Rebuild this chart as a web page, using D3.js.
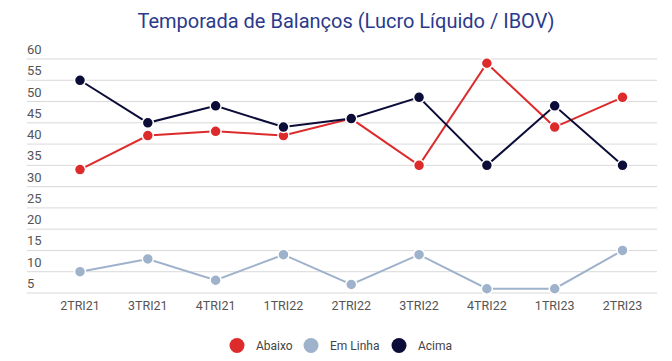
<!DOCTYPE html>
<html>
<head>
<meta charset="utf-8">
<script src="https://cdn.jsdelivr.net/npm/d3@7"></script>
<style>
  body { margin: 0; background: #fff; }
  svg { font-family: Roboto, sans-serif; }
</style>
</head>
<body>
<svg id="chart" width="672" height="361"></svg>
<script>
// data
var categories = ["2TRI21", "3TRI21", "4TRI21", "1TRI22", "2TRI22", "3TRI22", "4TRI22", "1TRI23", "2TRI23"];
var abaixo = [34, 42, 43, 42, 46, 35, 59, 44, 51];
var emLinha = [10, 13, 8, 14, 7, 14, 6, 6, 15];
var acima = [55, 45, 49, 44, 46, 51, 35, 49, 35];
var yTicks = [5, 10, 15, 20, 25, 30, 35, 40, 45, 50, 55, 60];

var series = [
  {name: "Abaixo", values: abaixo, color: "#dd2a2b"},
  {name: "Em Linha", values: emLinha, color: "#9fb2cc"},
  {name: "Acima", values: acima, color: "#0c0c38"}
];

var svg = d3.select("#chart");

// title
svg.append("text")
   .attr("x", 346).attr("y", 28)
   .attr("text-anchor", "middle")
   .attr("font-size", "20px")
   .attr("fill", "#2b3a8c")
   .text("Temporada de Balanços (Lucro Líquido / IBOV)");

var x = d3.scalePoint().domain(categories).range([80, 622.5]);
var y = d3.scaleLinear().domain([5, 60]).range([293, 59]);

// grid + y labels
var grid = svg.append("g");
grid.selectAll("line")
    .data(yTicks)
    .enter().append("line")
    .attr("x1", 27).attr("x2", 657)
    .attr("y1", function(d){ return y(d); })
    .attr("y2", function(d){ return y(d); })
    .attr("stroke", "#d9d9d9")
    .attr("stroke-width", 1);
grid.selectAll("text")
    .data(yTicks)
    .enter().append("text")
    .attr("x", 27)
    .attr("y", function(d){ return y(d) - 5; })
    .attr("font-size", "13px")
    .attr("fill", "#555")
    .text(function(d){ return d; });

// x labels
svg.append("g").selectAll("text")
   .data(categories)
   .enter().append("text")
   .attr("x", function(d){ return x(d); })
   .attr("y", 310)
   .attr("text-anchor", "middle")
   .attr("font-size", "12.5px")
   .attr("fill", "#555")
   .text(function(d){ return d; });

// lines
var line = d3.line()
  .x(function(d, i){ return x(categories[i]); })
  .y(function(d){ return y(d); });

series.forEach(function(s){
  var g = svg.append("g");
  g.append("path")
   .attr("d", line(s.values))
   .attr("fill", "none")
   .attr("stroke", s.color)
   .attr("stroke-width", 2);
  g.selectAll("circle")
   .data(s.values)
   .enter().append("circle")
   .attr("cx", function(d, i){ return x(categories[i]); })
   .attr("cy", function(d){ return y(d); })
   .attr("r", 5.5)
   .attr("fill", s.color)
   .attr("stroke", "#fff")
   .attr("stroke-width", 1.5);
});

// legend
var legendX = [237, 311, 399];
var legend = svg.append("g");
series.forEach(function(s, i){
  legend.append("circle")
        .attr("cx", legendX[i]).attr("cy", 345.5)
        .attr("r", 7.5)
        .attr("fill", s.color);
  legend.append("text")
        .attr("x", legendX[i] + 19).attr("y", 350)
        .attr("font-size", "12px")
        .attr("fill", "#444")
        .text(s.name);
});
</script>
</body>
</html>
